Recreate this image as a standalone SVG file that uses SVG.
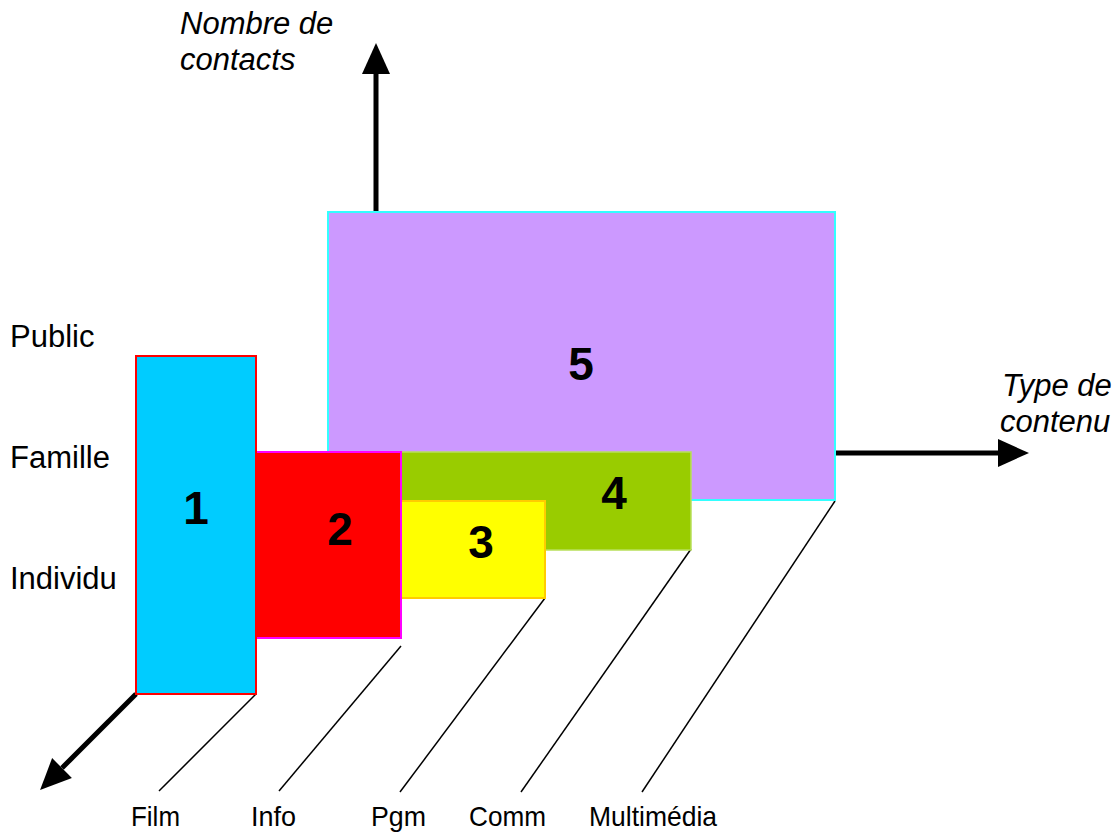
<svg xmlns="http://www.w3.org/2000/svg" width="1118" height="832" viewBox="0 0 1118 832">
<style>
  .lbl { font-family: "Liberation Sans", Arial, sans-serif; font-size: 31px; fill: #000; }
  .ax { font-family: "Liberation Sans", Arial, sans-serif; font-size: 31px; font-style: italic; fill: #000; }
  .cat { font-family: "Liberation Sans", Arial, sans-serif; font-size: 28px; fill: #000; }
  .num { font-family: "Liberation Sans", Arial, sans-serif; font-size: 46px; font-weight: bold; fill: #000; text-anchor: middle; }
  .axis { stroke: #000; stroke-width: 5; fill: none; marker-end: url(#arrow); }
  .guide { stroke: #000; stroke-width: 1.5; fill: none; }
</style>
<defs>
  <marker id="arrow" markerUnits="userSpaceOnUse" markerWidth="31" markerHeight="29" refX="0" refY="14" orient="auto" viewBox="0 0 31 28" overflow="visible">
    <path d="M0,0 L31,14 L0,28 z" fill="#000"/>
  </marker>
</defs>
<rect width="1118" height="832" fill="#fff"/>

<g id="connectors">
  <line class="axis" x1="376" y1="212" x2="376" y2="74"/>
  <line class="axis" x1="835" y1="453" x2="998" y2="453"/>
  <line class="axis" x1="136" y1="694" x2="62" y2="768"/>
  <line class="guide" x1="256" y1="694" x2="159" y2="791"/>
  <line class="guide" x1="401" y1="646" x2="279" y2="791"/>
  <line class="guide" x1="545" y1="598" x2="400" y2="792"/>
  <line class="guide" x1="691" y1="549" x2="521" y2="792"/>
  <line class="guide" x1="835" y1="501" x2="642" y2="792"/>
</g>

<g id="node5">
  <rect x="328" y="212" width="507" height="288" fill="#CC99FF" stroke="#33FFFF" stroke-width="2"/>
  <text class="num" x="581" y="380">5</text>
</g>
<g id="node4">
  <rect x="401" y="452" width="290" height="98" fill="#99CC00" stroke="#B8E05A" stroke-width="1.5"/>
  <text class="num" x="614" y="509">4</text>
</g>
<g id="node3">
  <rect x="401" y="501" width="144" height="97" fill="#FFFF00" stroke="#FFCC00" stroke-width="2"/>
  <text class="num" x="481" y="558">3</text>
</g>
<g id="node2">
  <rect x="255" y="452" width="146" height="186" fill="#FF0000" stroke="#FF00FF" stroke-width="2"/>
  <text class="num" x="340" y="545">2</text>
</g>
<g id="node1">
  <rect x="136" y="356" width="120" height="338" fill="#00CCFF" stroke="#FF0000" stroke-width="2"/>
  <text class="num" x="196" y="524">1</text>
</g>

<g id="labels">
  <text class="ax" x="180" y="34">Nombre de</text>
  <text class="ax" x="180" y="70">contacts</text>
  <text class="ax" x="1002" y="396">Type de</text>
  <text class="ax" x="1000" y="432">contenu</text>
  <text class="lbl" x="10" y="347">Public</text>
  <text class="lbl" x="10" y="468">Famille</text>
  <text class="lbl" x="10" y="589">Individu</text>
  <text class="cat" x="131" y="826" textLength="49" lengthAdjust="spacingAndGlyphs">Film</text>
  <text class="cat" x="251" y="826" textLength="45" lengthAdjust="spacingAndGlyphs">Info</text>
  <text class="cat" x="371" y="826" textLength="55" lengthAdjust="spacingAndGlyphs">Pgm</text>
  <text class="cat" x="469" y="826" textLength="77" lengthAdjust="spacingAndGlyphs">Comm</text>
  <text class="cat" x="589" y="826" textLength="128" lengthAdjust="spacingAndGlyphs">Multimédia</text>
</g>
</svg>
